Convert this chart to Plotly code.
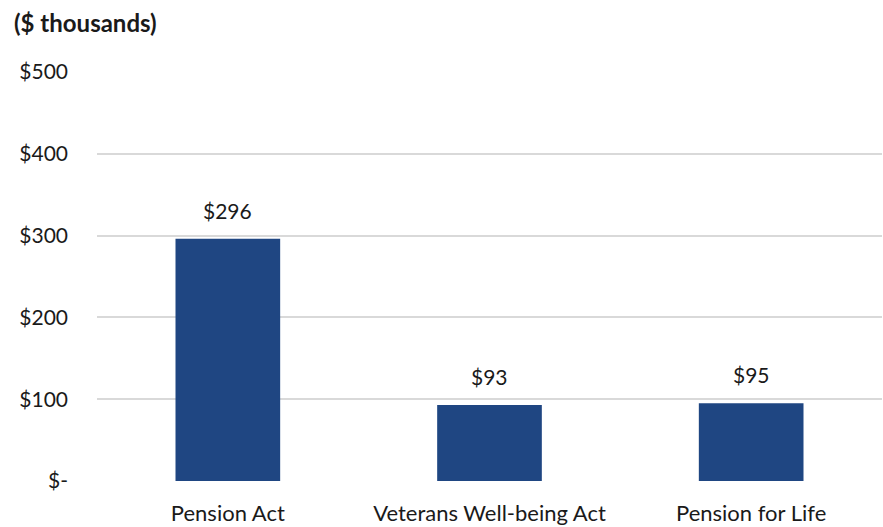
import plotly.graph_objects as go

categories = ["Pension Act", "Veterans Well-being Act", "Pension for Life"]
values = [296, 93, 95]
tick_vals = [0, 100, 200, 300, 400, 500]
tick_text = ["$-", "$100", "$200", "$300", "$400", "$500"]

FONT = "Lato, 'Noto Sans', sans-serif"
BAR_COLOR = "#1F4682"
TEXT_COLOR = "#1a1a1a"

fig = go.Figure(
    go.Bar(
        x=categories,
        y=values,
        width=0.4,
        marker=dict(color=BAR_COLOR, line=dict(width=0)),
        hoverinfo="x+y",
    )
)

# value labels sitting above each bar
annotations = [
    dict(
        x=c, y=v, xref="x", yref="y",
        text=f"${v}",
        showarrow=False,
        yanchor="bottom",
        yshift=14,
        font=dict(size=21, family=FONT, color=TEXT_COLOR),
    )
    for c, v in zip(categories, values)
]

annotations.append(
    dict(
        text="<b>($ thousands)</b>",
        xref="paper", yref="paper",
        x=-85 / 785, y=1 + 50 / 409,
        xanchor="left", yanchor="middle",
        showarrow=False,
        font=dict(size=24, family=FONT, color=TEXT_COLOR),
    )
)

fig.update_layout(
    width=883,
    height=527,
    margin=dict(l=97, r=1, t=72, b=46),
    paper_bgcolor="white",
    plot_bgcolor="white",
    font=dict(family=FONT, size=21, color=TEXT_COLOR),
    showlegend=False,
    annotations=annotations,
)

fig.update_yaxes(
    range=[0, 500],
    tickvals=tick_vals,
    ticktext=tick_text,
    showgrid=True,
    gridcolor="#D9D9D9",
    gridwidth=1.5,
    zeroline=False,
    showline=False,
    ticks="",
    ticklabelstandoff=28,
    tickfont=dict(size=21),
)

fig.update_xaxes(
    showline=False,
    ticks="",
    showgrid=False,
    ticklabelstandoff=17,
    tickfont=dict(size=22),
)

fig.write_html("out.html")
